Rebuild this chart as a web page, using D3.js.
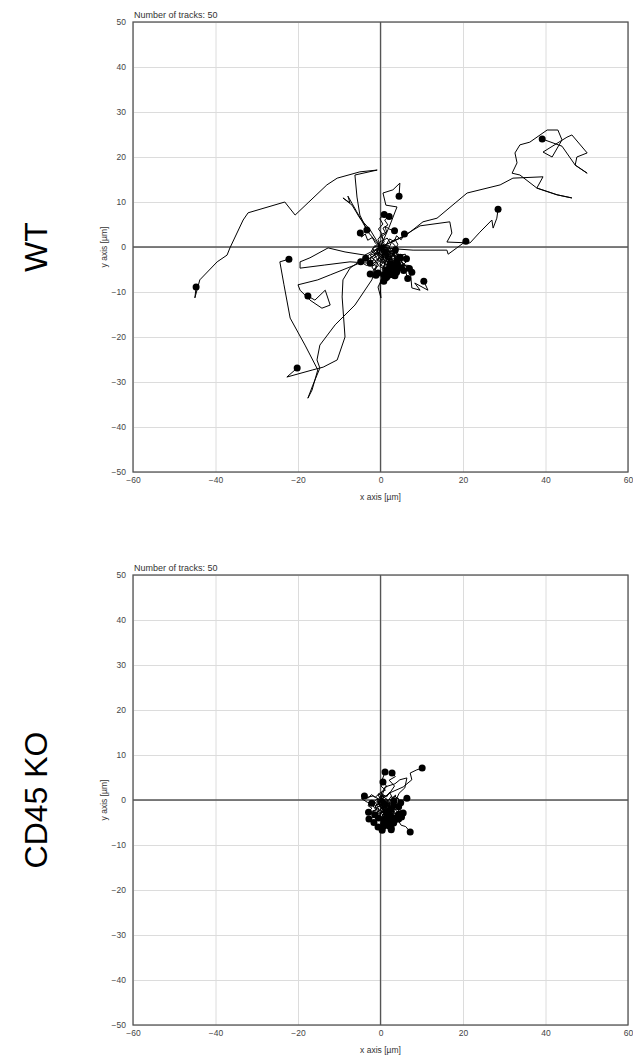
<!DOCTYPE html>
<html>
<head>
<meta charset="utf-8">
<script src="https://cdn.jsdelivr.net/npm/d3@7"></script>
<style>
  body { margin: 0; background: #fff; }
  svg { display: block; font-family: "Liberation Sans", Arial, sans-serif; }
</style>
</head>
<body>
<div id="chart"></div>
<script>
// axis ticks
const xTicks = [-60, -40, -20, 0, 20, 40, 60];
const yTicks = [-50, -40, -30, -20, -10, 0, 10, 20, 30, 40, 50];
const groups = ["WT", "CD45 KO"];
const trackCounts = [50, 50];

// WT tracks, [x, y] in µm, every track starts at origin, dot = last point
const wtTracks = [
  [[0,0],[-3,3.3],[-5,7.1],[-5.7,11.1],[-6.2,16],[-0.8,17.1],[-5,16.7],[-10.5,15.3],[-13,13.8],[-20.7,7.1],[-23.2,10],[-32.1,7.6],[-33.3,6],[-36.5,-0.2],[-37.2,-1.8],[-39.6,-3.3],[-43.8,-7.3],[-45,-11.3],[-44.7,-8.9]],
  [[0,0],[5.9,2.4],[10.3,5.6],[13.7,6.4],[21,12],[29,13.8],[32.1,15.3],[39.4,15.6],[37.9,13.1],[42.8,11.6],[46.4,10.9],[42.8,11.6],[37.9,13.1],[33.8,16],[31.9,16.4],[33.1,18.7],[32.6,20.9],[33.8,22.7],[36.2,23.3],[40.4,26],[43,26],[44,23.8],[41.6,20],[39.4,21.1],[45.2,24.4],[46.4,24.9],[50.1,20.9],[47.6,20],[47.2,18.2],[50.1,16.4],[47.2,18.2],[44,22.4],[39.2,24]],
  [[0,0],[4.7,2],[9.6,4.7],[16.8,5.6],[17.3,3.1],[16.1,1.1],[21.7,0.9],[24.1,3.3],[27,6],[27.3,4.2],[28.2,6.4],[28.5,8.4]],
  [[0,0],[3.4,-0.4],[7.9,-0.7],[16.1,-0.7],[16.4,-1.6],[18.5,-0.2],[20.7,1.3]],
  [[0,0],[2.3,4.9],[4,8.9],[1.3,9.3],[0.6,12],[3,12.7],[4.7,14.2],[4.5,11.3]],
  [[0,0],[-2.5,3.8],[-5,6.4],[-6.9,9.3],[-9.1,10.9],[-7.4,9.8],[-7.9,11.3],[-5.8,7.9],[-3.3,3.8]],
  [[0,0],[-0.6,-3.3],[-2.1,-7.3],[-6.2,-12.9],[-11,-17.3],[-14.7,-21.8],[-15.4,-25.1],[-14.7,-26.9],[-16.4,-30.7],[-17.6,-33.6],[-16.6,-31.8],[-15.2,-27.3],[-18.3,-21.8],[-21.9,-15.8],[-23.4,-8.4],[-24.4,-3.3],[-22.2,-2.7]],
  [[0,0],[-3.8,-2.4],[-7.4,-4.7],[-9.1,-7.3],[-9.3,-11.1],[-8.6,-20],[-10.5,-25.1],[-13.9,-26.7],[-16.4,-27.3],[-22.7,-28.9],[-20.2,-26.9]],
  [[0,0],[-2.1,-2.4],[-6.2,-4],[-12.2,-6.2],[-15.2,-7.3],[-20,-8.4],[-19.5,-9.6],[-17.1,-11.8],[-14.2,-13.6],[-12.2,-12.9],[-13.4,-9.6],[-15.9,-11.8],[-17.6,-10.9]],
  [[0,0],[-3.8,-1.8],[-8.6,-1.1],[-12.7,-0.2],[-17.1,-2.4],[-19.5,-3.3],[-19.5,-4.7],[-13.5,-4],[-7.4,-3.3],[-2.5,-3.6]],
  [[0,0],[3.5,-1.8],[7.2,-5.1],[7.6,-9.1],[9.6,-9.6],[8.3,-8],[11.5,-9.6],[10.5,-7.6]],
  [[0,0],[1.1,-4],[-0.1,-8.4],[0.1,-11.3],[-0.6,-8.9],[0.8,-6.2]],
  [[0,0],[1.2,-0.8],[0.6,-2.1],[2.3,-2.6],[1.7,-3.9],[3.2,-3.4],[2.8,-4.8],[3.9,-5.3]],
  [[0,0],[-0.8,-1.1],[0.5,-1.9],[-0.3,-3.2],[1.1,-3.7],[0.4,-5],[1.6,-5.6],[1.2,-6.9]],
  [[0,0],[0.9,0.7],[2,-0.3],[2.7,1.1],[3.6,0.2],[3.1,-1.3],[4.4,-1.8],[4,-3]],
  [[0,0],[-1.4,0.3],[-2.2,-0.9],[-1.1,-1.7],[-2.6,-2.4],[-1.9,-3.6],[-3.4,-4.1],[-4.8,-3.3]],
  [[0,0],[1.5,-1.4],[2.6,-0.9],[3.3,-2.3],[4.6,-2],[5.1,-3.4],[4.2,-4.5],[5.6,-5.2]],
  [[0,0],[0.4,-1],[1.6,-1.3],[1.1,-2.5],[2.4,-3.1],[2,-4.3],[3.3,-4.6],[2.6,-5.8],[3.5,-6.4]],
  [[0,0],[-0.5,0.9],[0.7,1.6],[0.2,2.8],[1.5,3.3],[1.1,4.6],[2.3,3.9],[3.4,3.6]],
  [[0,0],[1.9,0.4],[2.5,-0.8],[1.6,-1.8],[2.9,-2.2],[3.7,-1.1],[4.5,-2.5],[3.8,-3.7]],
  [[0,0],[0.7,-1.6],[-0.4,-2.4],[0.8,-3.3],[-0.2,-4.3],[1,-4.9],[0.5,-6.1],[1.5,-6.7]],
  [[0,0],[1.1,-0.5],[1.8,-1.7],[3,-1.5],[2.5,-2.8],[3.9,-3.1],[3.4,-4.2],[4.6,-4.6]],
  [[0,0],[-1,-0.6],[-0.5,-1.8],[-1.7,-2.5],[-1,-3.6],[-2.1,-4.4],[-1.4,-5.4],[-2.5,-6]],
  [[0,0],[2.2,-1.1],[3.8,-0.4],[4.4,-1.9],[6,-1.6],[6.6,-3],[5.5,-3.9],[7,-4.8]],
  [[0,0],[0.3,-1.4],[1.7,-2],[0.9,-3.1],[2.2,-3.5],[1.5,-4.6],[2.8,-5],[2.1,-6.2]],
  [[0,0],[1.4,0.5],[2.2,1.8],[3.3,1.2],[3.9,2.5],[5,1.6],[5.8,2.9]],
  [[0,0],[-0.4,-0.7],[0.9,-1.2],[0.3,-2.3],[1.6,-2.6],[1,-3.8],[2.3,-4.1],[1.8,-5.2]],
  [[0,0],[0.8,-0.9],[2,-0.5],[2.6,-1.9],[1.9,-3],[3.1,-3.6],[2.5,-4.9],[3.7,-5.6]],
  [[0,0],[-1.2,0.8],[-2,2.1],[-3.1,1.5],[-3.7,2.9],[-4.6,2.2],[-4.9,3.1]],
  [[0,0],[1,-1.1],[0.2,-2],[1.5,-2.4],[2.6,-3.3],[1.8,-4],[3,-4.4],[2.4,-5.5],[3.2,-6.2]],
  [[0,0],[0.6,0.4],[1.5,-0.6],[2.7,-0.2],[3.3,-1.5],[2.4,-2.3],[3.6,-2.8],[4.8,-2.3]],
  [[0,0],[-0.3,-1.2],[-1.4,-1.9],[-0.6,-2.9],[-1.7,-3.6],[-0.9,-4.6],[-1.9,-5.3],[-1.1,-6.3]],
  [[0,0],[1.6,-0.2],[2.3,-1.4],[1.5,-2.6],[2.9,-2.9],[2.1,-4],[3.4,-4.6],[4.1,-3.6]],
  [[0,0],[0.5,1.3],[1.6,2],[2.4,1],[3.5,1.7],[4.2,0.6],[3.6,-0.6]],
  [[0,0],[0.9,-0.4],[0.5,-1.6],[1.8,-1.9],[1.3,-3.1],[2.7,-3.3],[2.2,-4.5],[3.6,-4.9],[3,-6]],
  [[0,0],[-0.7,0.4],[-1.9,-0.3],[-1.2,-1.4],[-2.5,-1.8],[-1.6,-2.9],[-2.9,-3.4],[-3.6,-2.5]],
  [[0,0],[1.3,-1.9],[2.5,-2.3],[3.1,-3.7],[4.3,-3.9],[4.9,-5.3],[6.1,-5.5],[6.6,-7]],
  [[0,0],[0.4,-0.6],[1.4,-1],[1,-2],[2.1,-2.2],[1.8,-3.3],[2.9,-3.5],[2.5,-4.4]],
  [[0,0],[-0.6,1.7],[0.4,2.9],[-0.5,4],[0.6,5.1],[-0.2,6.3],[0.9,7.2]],
  [[0,0],[1.8,-0.9],[1.2,-2.1],[2.6,-2.5],[3.6,-3.6],[2.7,-4.4],[3.9,-5.2],[5.1,-4.6]],
  [[0,0],[0.2,-0.9],[1.2,-1.5],[0.6,-2.7],[1.9,-3.2],[1.3,-4.3],[2.5,-4.8],[2,-5.9]],
  [[0,0],[-1.1,-1.3],[-0.2,-2.3],[-1.3,-3.1],[-0.4,-4.1],[-1.5,-4.8],[-0.6,-5.8]],
  [[0,0],[1.2,0.2],[1.7,-1],[2.9,-0.8],[3.4,-2.1],[4.6,-1.7],[5,-3.1],[6.3,-2.6]],
  [[0,0],[0.6,-1.2],[1.9,-0.9],[1.4,-2.2],[2.7,-2],[2.2,-3.4],[3.5,-3.1],[3,-4.3]],
  [[0,0],[0.9,1.2],[0.2,2.3],[1.3,3],[0.6,4.2],[1.8,4.9],[1,6],[2.1,6.8]],
  [[0,0],[-0.9,-0.3],[-0.4,-1.5],[0.7,-1.9],[0.1,-3],[1.2,-3.5],[0.6,-4.6],[1.6,-5.1]],
  [[0,0],[1.7,-1.6],[3,-1.3],[3.6,-2.7],[5,-2.6],[5.4,-4],[6.9,-4.1],[7.6,-5.6]],
  [[0,0],[0.3,-0.5],[1.1,-0.4],[0.8,-1.4],[1.9,-1.5],[1.6,-2.6],[2.7,-2.7],[2.3,-3.8]],
  [[0,0],[-0.5,-1.7],[0.6,-2.6],[-0.2,-3.8],[0.9,-4.5],[0.3,-5.7],[1.3,-6.4],[0.8,-7.6]],
  [[0,0],[1.4,-0.7],[2,-2],[3.3,-1.6],[3.9,-2.9],[3.1,-4],[4.4,-4.3],[3.9,-5.6]]
];

// CD45 KO tracks
const koTracks = [
  [[0,0],[2.3,1.6],[5.5,2.9],[7.6,4.5],[7.2,6],[8.8,6.7],[10.1,7.1]],
  [[0,0],[0.3,1.8],[1.5,3],[0.4,4.5],[1.1,6.2]],
  [[0,0],[2.2,1.5],[3.4,3.1],[2.1,4.4],[3.6,5.2],[2.8,6]],
  [[0,0],[-0.6,1.3],[1.2,2.2],[0.1,3.1],[0.6,4]],
  [[0,0],[1.8,-0.6],[3.5,0.9],[4.8,-0.3],[6.4,0.4]],
  [[0,0],[2.1,-2.4],[3.9,-4],[5,-5.6],[6.1,-5.9],[7.2,-7.1]],
  [[0,0],[-1.8,0.9],[-4.6,0.3],[-3.2,-0.5],[-2.1,-0.7]],
  [[0,0],[1.1,2.9],[3.5,3.6],[4.7,4.5],[6.4,4.9],[5.9,2.7],[4.5,1.5],[3.2,-1.2]],
  [[0,0],[0.7,-0.9],[1.6,-0.5],[2.1,-1.7],[1.3,-2.5],[2.4,-3],[1.8,-4.1]],
  [[0,0],[-0.6,-0.8],[0.3,-1.7],[-0.4,-2.6],[0.6,-3.3],[-0.1,-4.2],[0.8,-4.9]],
  [[0,0],[1.2,-0.3],[1.8,-1.4],[2.9,-1],[3.3,-2.2],[4.2,-1.9],[4.6,-3.1]],
  [[0,0],[0.4,-1.3],[1.4,-1.9],[0.8,-3],[1.9,-3.6],[1.3,-4.8],[2.2,-5.6]],
  [[0,0],[-1,-0.4],[-1.8,-1.3],[-1.1,-2.2],[-2.3,-2.8],[-1.6,-3.7],[-2.8,-4.2]],
  [[0,0],[0.9,0.6],[1.9,-0.1],[2.6,0.8],[3.4,-0.2],[4.2,0.5],[4.9,-0.6]],
  [[0,0],[0.3,-0.8],[1.1,-1.3],[2,-2.4],[2.8,-3],[2.2,-3.9],[3.1,-4.6]],
  [[0,0],[-0.3,-1.1],[0.6,-2.3],[-0.2,-3.4],[0.5,-4.6],[-0.2,-5.6],[0.4,-6.7]],
  [[0,0],[1.3,-0.9],[2.4,-0.6],[3.1,-1.6],[4.1,-2.7],[3.5,-3.6],[4.4,-4.2]],
  [[0,0],[0.5,0.8],[-0.4,1.3],[-1.3,0.6],[-2.2,1.2],[-3,0.4],[-3.9,0.9]],
  [[0,0],[0.8,-0.3],[1.1,-1.6],[2.2,-2.1],[2.5,-3.3],[3.6,-4],[3.2,-5.1]],
  [[0,0],[-0.6,-0.3],[-0.2,-1.5],[0.8,-1.8],[0.4,-2.8],[1.5,-3.2],[1,-4.3]],
  [[0,0],[1.6,-0.2],[2.1,-1.1],[1.5,-2.1],[2.6,-2.6],[2,-3.5],[3.1,-4]],
  [[0,0],[0.2,-1.1],[-1,-1.7],[-0.7,-2.8],[-1.7,-3.4],[-0.8,-4.1],[-1.6,-5]],
  [[0,0],[1,-1.3],[1.7,-2.5],[0.9,-3.6],[2.1,-4.5],[1.7,-5.4],[2.6,-6.2]],
  [[0,0],[0.6,1.2],[1.5,0.7],[2.2,1.7],[2.9,0.5],[3.7,1.1],[3.2,-0.2]],
  [[0,0],[-0.5,-0.7],[0.3,-1.2],[1.1,-0.8],[1.7,-1.9],[0.9,-2.6],[1.6,-3.4]],
  [[0,0],[1.3,-0.6],[0.8,-1.7],[1.8,-2.3],[2.8,-1.8],[3.2,-3],[4.3,-3.3]],
  [[0,0],[0.3,-0.5],[1.3,-0.8],[0.8,-1.9],[1.8,-3],[2.5,-4.2],[1.9,-5]],
  [[0,0],[-0.9,-1.3],[-0.3,-2.2],[-1.2,-3.2],[-0.5,-4.3],[-1.3,-5.1],[-0.6,-6]],
  [[0,0],[1.7,-1.2],[2.7,-0.8],[3.6,-1.5],[4.3,-0.9],[4.7,-2.3],[5.5,-2.9]],
  [[0,0],[0.8,-0.7],[0.2,-1.8],[1.2,-2.7],[0.7,-3.8],[1.8,-4.3],[1.3,-5.5]],
  [[0,0],[-0.2,0.7],[0.8,1],[0.4,-0.3],[1.2,-0.9],[0.6,-2.1],[1.4,-2.8]],
  [[0,0],[1.1,-1.7],[2.2,-2.8],[3,-4.1],[2.3,-5],[3.2,-5.5],[2.6,-6.6]],
  [[0,0],[0.5,-0.9],[1.6,-1.2],[2.3,-0.5],[1.9,-1.7],[2.9,-2.3],[2.4,-3.4]],
  [[0,0],[-0.8,0.3],[-1.6,-0.4],[-2.6,-0.2],[-3,-1.3],[-2.1,-1.8],[-2.9,-2.7]],
  [[0,0],[0.8,-0.4],[1.5,-1.4],[0.6,-2.2],[1.3,-2.9],[2.3,-2.5],[2,-3.8]],
  [[0,0],[0.3,-1.5],[1.2,-2.4],[2.2,-3.3],[1.5,-4.2],[2.6,-4.7],[2.1,-5.8]],
  [[0,0],[1.4,0.2],[2.3,-0.8],[1.8,-1.8],[2.8,-2.8],[1.7,-3],[2.5,-3.9]],
  [[0,0],[-0.4,-0.8],[0.7,-1.6],[0.2,-2.5],[1.2,-3.2],[0.4,-4.1],[1.1,-4.7]],
  [[0,0],[0.8,-1.2],[1.8,-0.9],[2.4,-2.2],[3.3,-2.6],[2.8,-3.5],[3.8,-4.3]],
  [[0,0],[-0.2,-0.6],[0.9,-1],[0.5,-2],[1.6,-2.3],[1,-3],[1.9,-3.8]],
  [[0,0],[1.2,-0.8],[0.5,-1.8],[1.6,-2.8],[1.1,-3.8],[2.3,-4.1],[1.7,-5.2]],
  [[0,0],[0.4,0.4],[1.3,-0.4],[2.3,0.2],[2.8,-0.8],[3.8,-0.4],[4.4,-1.5]],
  [[0,0],[-0.7,-0.5],[-1.3,-1.6],[-0.3,-2.2],[-0.8,-3.2],[0.1,-2.8],[-0.5,-4]],
  [[0,0],[1,-0.2],[1.5,-1.1],[2.5,-1.5],[1.8,-2.5],[2.4,-3.4],[1.6,-4.2]],
  [[0,0],[0.6,-1.2],[-0.1,-2.3],[0.8,-3],[0.3,-4.2],[1.2,-4.8],[0.7,-5.9]],
  [[0,0],[1.5,-0.8],[2.2,-2],[3.2,-2.3],[3.8,-3.4],[4.5,-2.8],[5.1,-3.8]],
  [[0,0],[0.2,-0.3],[0.8,-0.8],[0.4,-1.4],[1.3,-1.8],[1.9,-1.3],[2.6,-2.1]],
  [[0,0],[-0.8,0.2],[-0.3,-0.9],[-1.3,-1.3],[-1,-2.2],[-1.9,-2.4],[-1.4,-3.3]],
  [[0,0],[0.9,-0.9],[2.1,-1.3],[1.5,-2.6],[2.5,-3.3],[1.8,-4.3],[2.7,-5]],
  [[0,0],[0.7,-0.2],[1.3,-1.2],[2.4,-1.6],[1.8,-2.4],[2.8,-2.9],[2.3,-3.9]]
];

const allTracks = [wtTracks, koTracks];

const W = 633, H = 1061;
const plotW = 495, plotH = 450;
const panelTop = [22, 575];
const plotLeft = 133;

const svg = d3.select("#chart").append("svg")
  .attr("width", W)
  .attr("height", H);

const x = d3.scaleLinear().domain([-60, 60]).range([0, plotW]);
const y = d3.scaleLinear().domain([-50, 50]).range([plotH, 0]);

const line = d3.line().x(d => x(d[0])).y(d => y(d[1]));

groups.forEach((name, i) => {
  const g = svg.append("g")
    .attr("transform", `translate(${plotLeft},${panelTop[i]})`);

  // grid
  g.append("g")
    .attr("transform", `translate(0,${plotH})`)
    .call(d3.axisBottom(x).tickValues(xTicks).tickSize(-plotH).tickFormat(""))
    .call(a => a.select(".domain").remove())
    .call(a => a.selectAll("line").attr("stroke", "#dcdcdc").attr("stroke-width", 1));
  g.append("g")
    .call(d3.axisLeft(y).tickValues(yTicks).tickSize(-plotW).tickFormat(""))
    .call(a => a.select(".domain").remove())
    .call(a => a.selectAll("line").attr("stroke", "#dcdcdc").attr("stroke-width", 1));

  // zero lines
  g.append("line")
    .attr("x1", x(0)).attr("x2", x(0)).attr("y1", 0).attr("y2", plotH)
    .attr("stroke", "#555").attr("stroke-width", 1.3);
  g.append("line")
    .attr("x1", 0).attr("x2", plotW).attr("y1", y(0)).attr("y2", y(0))
    .attr("stroke", "#555").attr("stroke-width", 1.3);

  // tick labels
  g.append("g")
    .attr("transform", `translate(0,${plotH})`)
    .call(d3.axisBottom(x).tickValues(xTicks).tickSize(0).tickPadding(5))
    .call(a => a.select(".domain").remove())
    .call(a => a.selectAll("text").attr("fill", "#444").attr("font-size", 8.5)
      .attr("font-family", "Liberation Sans, Arial, sans-serif"));
  g.append("g")
    .call(d3.axisLeft(y).tickValues(yTicks).tickSize(0).tickPadding(7))
    .call(a => a.select(".domain").remove())
    .call(a => a.selectAll("text").attr("fill", "#444").attr("font-size", 8.5)
      .attr("font-family", "Liberation Sans, Arial, sans-serif"));

  // tracks
  const clipId = "clip" + i;
  g.append("clipPath").attr("id", clipId)
    .append("rect").attr("width", plotW).attr("height", plotH);
  const tg = g.append("g").attr("clip-path", `url(#${clipId})`);
  tg.selectAll("path.track")
    .data(allTracks[i])
    .join("path")
    .attr("class", "track")
    .attr("d", line)
    .attr("fill", "none")
    .attr("stroke", "#000")
    .attr("stroke-width", 1)
    .attr("stroke-linejoin", "round");
  tg.selectAll("circle.end")
    .data(allTracks[i])
    .join("circle")
    .attr("class", "end")
    .attr("cx", d => x(d[d.length - 1][0]))
    .attr("cy", d => y(d[d.length - 1][1]))
    .attr("r", 3.5)
    .attr("fill", "#000");

  // frame
  g.append("rect")
    .attr("width", plotW).attr("height", plotH)
    .attr("fill", "none")
    .attr("stroke", "#555")
    .attr("stroke-width", 1.3);

  // titles
  g.append("text")
    .attr("x", 1).attr("y", -4)
    .attr("font-size", 9).attr("fill", "#333")
    .text("Number of tracks: " + trackCounts[i]);
  g.append("text")
    .attr("x", plotW / 2).attr("y", plotH + 28)
    .attr("text-anchor", "middle")
    .attr("font-size", 8.5).attr("fill", "#333")
    .text("x axis [µm]");
  g.append("text")
    .attr("transform", `translate(-26,${plotH / 2}) rotate(-90)`)
    .attr("text-anchor", "middle")
    .attr("font-size", 8.5).attr("fill", "#333")
    .text("y axis [µm]");

  // group label
  svg.append("text")
    .attr("transform", `translate(47,${panelTop[i] + y(0)}) rotate(-90)`)
    .attr("text-anchor", "middle")
    .attr("font-size", 32)
    .attr("font-family", "Liberation Sans, Arial, sans-serif")
    .attr("fill", "#000")
    .text(name);
});
</script>
</body>
</html>
